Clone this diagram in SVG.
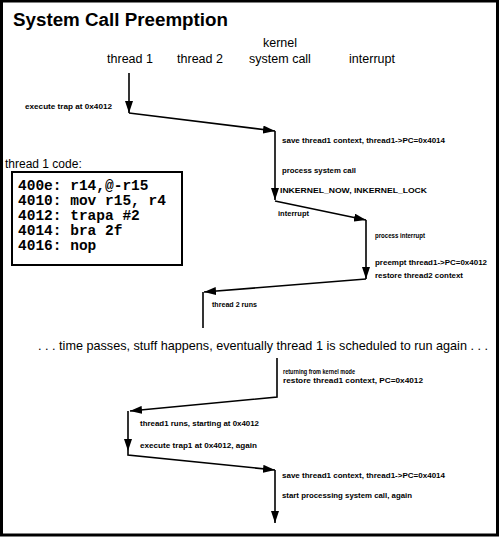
<svg xmlns="http://www.w3.org/2000/svg" width="500" height="537" viewBox="0 0 500 537">
<style>
.title{font-family:"Liberation Sans",Arial,sans-serif;font-weight:bold;font-size:18px;fill:#000}
.hdr{font-family:"Liberation Sans",Arial,sans-serif;font-size:12.5px;fill:#000;text-anchor:middle}
.big{font-family:"Liberation Sans",Arial,sans-serif;font-size:13px;fill:#000}
.sm{font-family:"Liberation Sans",Arial,sans-serif;font-weight:bold;font-size:8px;fill:#000}
.code{font-family:"Liberation Mono","Courier New",monospace;font-weight:bold;font-size:14.5px;fill:#000}
.lbl{font-family:"Liberation Sans",Arial,sans-serif;font-size:12px;fill:#000}
.ln{fill:none;stroke:#000;stroke-width:1.6}
</style>
<defs>
<marker id="ah" markerUnits="userSpaceOnUse" markerWidth="12" markerHeight="8" refX="12" refY="4" orient="auto">
<path d="M0,0 L12,4 L0,8 z" fill="#000"/>
</marker>
</defs>
<rect x="1.5" y="1" width="496" height="534" fill="#fff" stroke="#000" stroke-width="3"/>
<text class="title" x="13" y="26" textLength="215" lengthAdjust="spacingAndGlyphs">System Call Preemption</text>
<g id="headers">
<text class="hdr" x="130" y="63">thread 1</text>
<text class="hdr" x="200" y="63">thread 2</text>
<text class="hdr" x="280" y="47">kernel</text>
<text class="hdr" x="280" y="63">system call</text>
<text class="hdr" x="372" y="63">interrupt</text>
</g>
<g id="code">
<text class="lbl" x="5" y="168">thread 1 code:</text>
<rect x="12" y="172" width="170" height="93" fill="none" stroke="#000" stroke-width="2"/>
<text class="code" x="18" y="190">400e: r14,@-r15</text>
<text class="code" x="18" y="205">4010: mov r15, r4</text>
<text class="code" x="18" y="220">4012: trapa #2</text>
<text class="code" x="18" y="235">4014: bra 2f</text>
<text class="code" x="18" y="249.5">4016: nop</text>
</g>
<g id="connectors">
<path class="ln" d="M129,73 V113" marker-end="url(#ah)"/>
<path class="ln" d="M129,113 L275,131" marker-end="url(#ah)"/>
<path class="ln" d="M275,131 V200" marker-end="url(#ah)"/>
<path class="ln" d="M275,201 L366,220" marker-end="url(#ah)"/>
<path class="ln" d="M366,220 V279" marker-end="url(#ah)"/>
<path class="ln" d="M366,279 L204,292" marker-end="url(#ah)"/>
<path class="ln" d="M203,292 V328"/>
<path class="ln" d="M277,358 V397 L130,411" marker-end="url(#ah)"/>
<path class="ln" d="M128,411 V451" marker-end="url(#ah)"/>
<path class="ln" d="M128,451 V455 L275,470" marker-end="url(#ah)"/>
<path class="ln" d="M275,470 V523" marker-end="url(#ah)"/>
</g>
<g id="labels">
<text class="sm" x="25" y="109" textLength="87" lengthAdjust="spacingAndGlyphs">execute trap at 0x4012</text>
<text class="sm" x="282" y="143" textLength="163" lengthAdjust="spacingAndGlyphs">save thread1 context, thread1-&gt;PC=0x4014</text>
<text class="sm" x="282" y="173" textLength="74" lengthAdjust="spacingAndGlyphs">process system call</text>
<text class="sm" x="280" y="193" textLength="147" lengthAdjust="spacingAndGlyphs">INKERNEL_NOW, INKERNEL_LOCK</text>
<text class="sm" x="278" y="216" textLength="31" lengthAdjust="spacingAndGlyphs">interrupt</text>
<text class="sm" x="375" y="238" textLength="50" lengthAdjust="spacingAndGlyphs">process interrupt</text>
<text class="sm" x="375" y="265" textLength="112" lengthAdjust="spacingAndGlyphs">preempt thread1-&gt;PC=0x4012</text>
<text class="sm" x="375" y="278" textLength="88" lengthAdjust="spacingAndGlyphs">restore thread2 context</text>
<text class="sm" x="212" y="307" textLength="45" lengthAdjust="spacingAndGlyphs">thread 2 runs</text>
<text class="big" x="38" y="350" textLength="450" lengthAdjust="spacingAndGlyphs">. . . time passes, stuff happens, eventually thread 1 is scheduled to run again . . .</text>
<text class="sm" x="283" y="374" textLength="72" lengthAdjust="spacingAndGlyphs">returning from kernel mode</text>
<text class="sm" x="283" y="383" textLength="140" lengthAdjust="spacingAndGlyphs">restore thread1 context, PC=0x4012</text>
<text class="sm" x="140" y="426" textLength="119" lengthAdjust="spacingAndGlyphs">thread1 runs, starting at 0x4012</text>
<text class="sm" x="140" y="448" textLength="117" lengthAdjust="spacingAndGlyphs">execute trap1 at 0x4012, again</text>
<text class="sm" x="282" y="478" textLength="163" lengthAdjust="spacingAndGlyphs">save thread1 context, thread1-&gt;PC=0x4014</text>
<text class="sm" x="282" y="498" textLength="130" lengthAdjust="spacingAndGlyphs">start processing system call, again</text>
</g>
</svg>
